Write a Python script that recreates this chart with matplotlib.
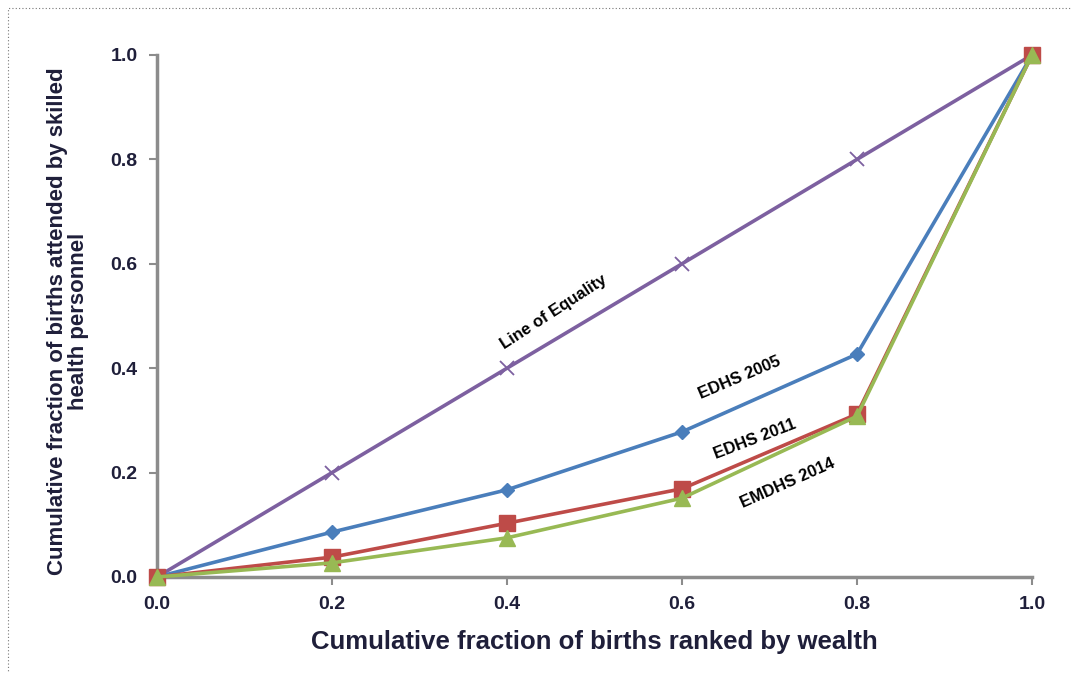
import matplotlib
matplotlib.use("Agg")
import matplotlib.pyplot as plt
from matplotlib.patches import Rectangle

# Data
x_frac = [0.0, 0.2, 0.4, 0.6, 0.8, 1.0]
equality = [0.0, 0.2, 0.4, 0.6, 0.8, 1.0]
edhs_2005 = [0.0, 0.086, 0.167, 0.278, 0.427, 1.0]
edhs_2011 = [0.0, 0.038, 0.103, 0.169, 0.312, 1.0]
emdhs_2014 = [0.0, 0.027, 0.075, 0.151, 0.308, 1.0]
ticks = [0.0, 0.2, 0.4, 0.6, 0.8, 1.0]

plt.rcParams["font.family"] = ["Liberation Sans", "DejaVu Sans"]

fig = plt.figure(figsize=(10.72, 6.73), dpi=100)
ax = fig.add_axes([0.1465, 0.1427, 0.8162, 0.7756])

# dotted frame around the figure
fig.patches.append(Rectangle((0.007, -0.05), 1.2, 1.038, transform=fig.transFigure,
                             fill=False, linestyle=(0, (1, 2)), linewidth=0.8,
                             edgecolor="#777777"))

ax.plot(x_frac, equality, color="#7d60a0", linewidth=2.6, marker="x",
        markersize=10, markeredgewidth=1.3, clip_on=False, zorder=3)
ax.plot(x_frac, edhs_2005, color="#4a7ebb", linewidth=2.6, marker="D",
        markersize=7.5, clip_on=False, zorder=4)
ax.plot(x_frac, edhs_2011, color="#be4b48", linewidth=2.6, marker="s",
        markersize=11, clip_on=False, zorder=5)
ax.plot(x_frac, emdhs_2014, color="#98b954", linewidth=2.6, marker="^",
        markersize=11, clip_on=False, zorder=6)

# In-chart series labels
label_kw = dict(fontsize=12, fontweight="bold", ha="center", va="center")
ax.text(0.453, 0.508, "Line of Equality", rotation=33, **label_kw)
ax.text(0.666, 0.381, "EDHS 2005", rotation=23, **label_kw)
ax.text(0.683, 0.264, "EDHS 2011", rotation=21, **label_kw)
ax.text(0.721, 0.180, "EMDHS 2014", rotation=24, **label_kw)

ax.set_xlim(0, 1)
ax.set_ylim(0, 1)
ax.set_xticks(ticks)
ax.set_yticks(ticks)
ax.set_xticklabels([f"{t:.1f}" for t in ticks], fontsize=14, fontweight="bold",
                   color="#1f1f3a")
ax.set_yticklabels([f"{t:.1f}" for t in ticks], fontsize=14, fontweight="bold",
                   color="#1f1f3a")

for side in ["top", "right"]:
    ax.spines[side].set_visible(False)
for side in ["left", "bottom"]:
    ax.spines[side].set_color("#8c8c8c")
    ax.spines[side].set_linewidth(2.5)
ax.tick_params(direction="out", length=6, width=1.5, color="#8c8c8c", pad=8)

ax.set_xlabel("Cumulative fraction of births ranked by wealth", fontsize=18.5,
              fontweight="bold", color="#1f1f3a", labelpad=12)
ax.set_ylabel("Cumulative fraction of births attended by skilled\nhealth personnel",
              fontsize=16, fontweight="bold", color="#1f1f3a",
              linespacing=1.0)
ax.yaxis.set_label_coords(-0.078, 0.49)

fig.savefig("out.png", dpi=100)
